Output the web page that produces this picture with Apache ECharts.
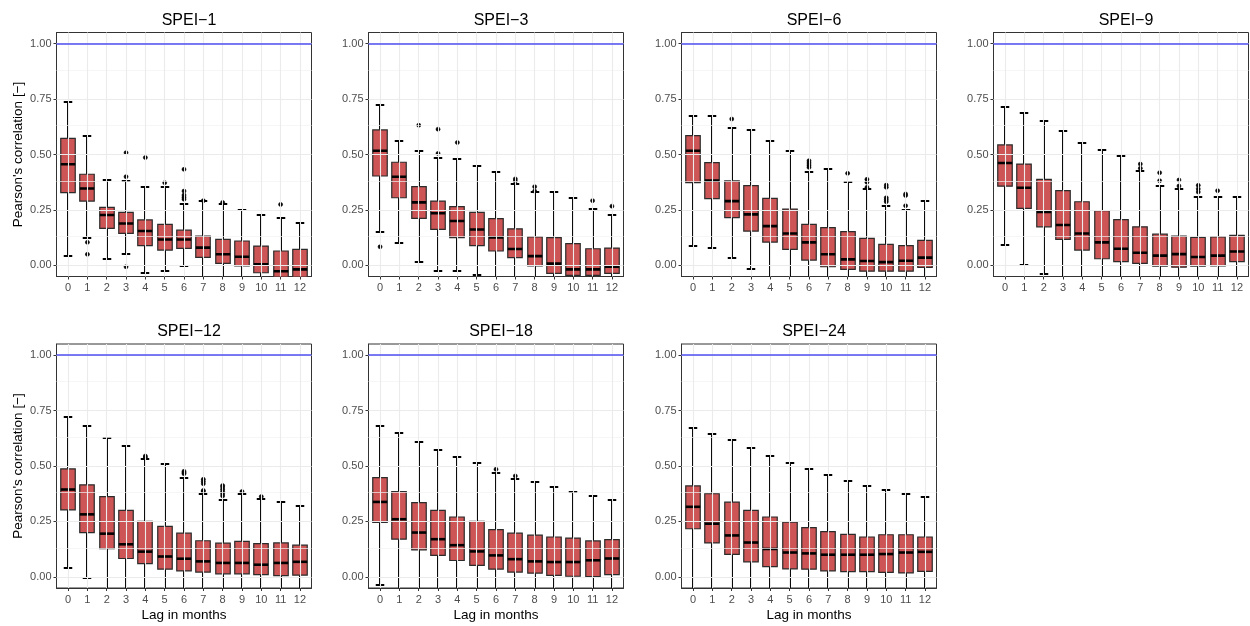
<!DOCTYPE html>
<html>
<head>
<meta charset="utf-8">
<script src="https://cdn.jsdelivr.net/npm/echarts@6/dist/echarts.min.js"></script>
<style>
html,body{margin:0;padding:0;background:#fff;}
#chart{width:1250px;height:626px;}
</style>
</head>
<body>
<div id="chart"></div>
<script>
// ---- DATA ----
const lags = [0,1,2,3,4,5,6,7,8,9,10,11,12];
const panelTitles = ['SPEI\u22121','SPEI\u22123','SPEI\u22126','SPEI\u22129','SPEI\u221212','SPEI\u221218','SPEI\u221224'];
const yTicks = [0, 0.25, 0.5, 0.75, 1];
const yMinor = [0.125, 0.375, 0.625, 0.875];
const refLine = 1;

// each row: [min, Q1, median, Q3, max] per lag
const spei1Box = [
  [0.042,0.328,0.456,0.573,0.738],[0.125,0.290,0.347,0.411,0.583],[0.027,0.167,0.227,0.262,0.385],
  [0.051,0.144,0.189,0.239,0.380],[-0.036,0.089,0.155,0.205,0.353],[-0.024,0.069,0.117,0.185,0.352],
  [-0.003,0.077,0.117,0.159,0.277],[-0.10,0.036,0.080,0.132,0.290],[-0.11,0.009,0.050,0.117,0.277],
  [-0.12,-0.002,0.039,0.110,0.250],[-0.14,-0.033,0.005,0.087,0.227],[-0.16,-0.058,-0.026,0.065,0.215],
  [-0.16,-0.060,-0.018,0.072,0.193]];
const spei1Out = [[1,0.104],[1,0.050],[3,0.508],[3,0.400],[3,-0.006],[4,0.486],[5,0.373],
  [6,0.433],[6,0.335],[6,0.317],[6,0.307],[6,0.298],[7,0.292],[8,0.284],[11,0.275]];

const spei3Box = [
  [0.149,0.403,0.517,0.611,0.724],[0.101,0.305,0.400,0.465,0.563],[0.015,0.212,0.284,0.355,0.516],
  [-0.024,0.162,0.235,0.290,0.486],[-0.024,0.125,0.200,0.265,0.478],[-0.044,0.089,0.162,0.239,0.448],
  [-0.10,0.065,0.126,0.211,0.421],[-0.12,0.035,0.074,0.165,0.367],[-0.13,-0.002,0.042,0.129,0.329],
  [-0.15,-0.036,0.008,0.125,0.329],[-0.16,-0.045,-0.018,0.098,0.304],[-0.16,-0.045,-0.018,0.075,0.254],
  [-0.14,-0.036,-0.006,0.078,0.227]];
const spei3Out = [[0,0.084],[2,0.632],[3,0.614],[3,0.505],[4,0.554],[7,0.390],[7,0.380],
  [8,0.355],[8,0.335],[11,0.292],[12,0.267]];

const spei6Box = [
  [0.089,0.373,0.517,0.585,0.672],[0.077,0.301,0.382,0.463,0.672],[0.032,0.215,0.290,0.381,0.621],
  [-0.018,0.155,0.230,0.360,0.611],[-0.10,0.105,0.177,0.302,0.560],[-0.12,0.072,0.144,0.254,0.517],
  [-0.13,0.024,0.104,0.185,0.420],[-0.15,-0.006,0.050,0.170,0.433],[-0.16,-0.018,0.027,0.152,0.378],
  [-0.17,-0.026,0.020,0.122,0.343],[-0.17,-0.026,0.015,0.095,0.269],[-0.16,-0.026,0.021,0.089,0.252],
  [-0.13,-0.009,0.035,0.113,0.289]];
const spei6Out = [[2,0.660],[6,0.472],[6,0.462],[6,0.452],[6,0.442],[8,0.415],[9,0.388],[9,0.375],[9,0.352],
  [10,0.362],[10,0.352],[10,0.305],[10,0.296],[10,0.287],[11,0.322],[11,0.315],[11,0.269]];

const spei9Box = [
  [0.092,0.357,0.462,0.543,0.714],[0.000,0.257,0.350,0.457,0.686],[-0.039,0.174,0.241,0.388,0.651],
  [-0.12,0.117,0.182,0.337,0.605],[-0.13,0.069,0.144,0.287,0.554],[-0.14,0.030,0.104,0.247,0.520],
  [-0.15,0.017,0.075,0.206,0.492],[-0.15,0.009,0.057,0.174,0.426],[-0.15,-0.003,0.044,0.141,0.358],
  [-0.15,-0.008,0.051,0.132,0.343],[-0.14,-0.003,0.038,0.126,0.307],[-0.13,-0.002,0.044,0.129,0.310],
  [-0.11,0.017,0.063,0.135,0.308]];
const spei9Out = [[7,0.457],[7,0.438],[8,0.418],[8,0.382],[9,0.385],[9,0.358],[10,0.361],[10,0.345],[10,0.331],[11,0.337]];

const spei12Box = [
  [0.041,0.302,0.394,0.487,0.720],[-0.007,0.200,0.282,0.415,0.680],[-0.10,0.127,0.195,0.362,0.627],
  [-0.12,0.083,0.147,0.300,0.590],[-0.13,0.060,0.114,0.250,0.532],[-0.14,0.035,0.092,0.228,0.510],
  [-0.15,0.027,0.082,0.197,0.445],[-0.15,0.022,0.070,0.163,0.375],[-0.15,0.014,0.063,0.152,0.348],
  [-0.15,0.014,0.063,0.160,0.375],[-0.15,0.010,0.055,0.150,0.352],[-0.15,0.006,0.063,0.153,0.337],
  [-0.14,0.008,0.068,0.143,0.320]];
const spei12Out = [[4,0.545],[4,0.540],[6,0.465],[6,0.470],[6,0.476],[7,0.385],[7,0.390],[7,0.420],[7,0.430],[7,0.440],
  [8,0.365],[8,0.375],[8,0.385],[8,0.395],[8,0.405],[8,0.412],[9,0.385],[10,0.362]];

const spei18Box = [
  [-0.035,0.246,0.338,0.448,0.680],[-0.10,0.170,0.260,0.385,0.648],[-0.12,0.122,0.200,0.335,0.610],
  [-0.13,0.097,0.170,0.300,0.572],[-0.14,0.074,0.143,0.270,0.540],[-0.15,0.052,0.115,0.250,0.513],
  [-0.15,0.035,0.097,0.213,0.470],[-0.15,0.022,0.080,0.197,0.440],[-0.15,0.017,0.070,0.188,0.430],
  [-0.15,0.007,0.067,0.180,0.405],[-0.15,0.003,0.067,0.175,0.382],[-0.15,0.001,0.075,0.162,0.363],
  [-0.14,0.010,0.083,0.168,0.348]];
const spei18Out = [[6,0.485],[7,0.455]];

const spei24Box = [
  [-0.10,0.217,0.316,0.410,0.670],[-0.12,0.153,0.240,0.375,0.645],[-0.13,0.102,0.187,0.337,0.617],
  [-0.14,0.068,0.155,0.300,0.580],[-0.14,0.046,0.126,0.270,0.545],[-0.15,0.036,0.110,0.247,0.515],
  [-0.15,0.035,0.106,0.222,0.487],[-0.15,0.027,0.100,0.204,0.458],[-0.15,0.024,0.100,0.192,0.432],
  [-0.15,0.024,0.100,0.180,0.410],[-0.15,0.020,0.103,0.190,0.390],[-0.15,0.018,0.110,0.190,0.375],
  [-0.15,0.025,0.113,0.180,0.362]];
const spei24Out = [];

const allBoxes = [spei1Box, spei3Box, spei6Box, spei9Box, spei12Box, spei18Box, spei24Box];
const allOutliers = [spei1Out, spei3Out, spei6Out, spei9Out, spei12Out, spei18Out, spei24Out];

// ---- LAYOUT ----
const colLeft = [56.5, 368.5, 681.5, 993.5];
const rowTop = [32.5, 344];
const plotW = 255, plotH = 244;
const FONT = 'Liberation Sans, Arial, Helvetica, sans-serif';

const grids = [], xAxes = [], yAxes = [], titles = [], series = [];

function renderBox(params, api) {
  const x = api.value(0);
  const vMin = api.value(1), q1 = api.value(2), med = api.value(3), q3 = api.value(4), vMax = api.value(5);
  const pMin = api.coord([x, vMin]);
  const pMax = api.coord([x, vMax]);
  const pQ1 = api.coord([x, q1]);
  const pQ3 = api.coord([x, q3]);
  const pMed = api.coord([x, med]);
  const unit = api.size([1, 0])[0];
  const bw = unit * 0.75;
  const cw = unit * 0.44;
  const cx = Math.round(pMed[0]);
  const yMin = Math.round(pMin[1]), yMax = Math.round(pMax[1]);
  const black = '#000000';
  return {
    type: 'group',
    children: [
      {type:'line', shape:{x1:cx, y1:yMin, x2:cx, y2:yMax}, style:{stroke:black, lineWidth:2}},
      {type:'line', shape:{x1:cx-cw/2, y1:yMin, x2:cx+cw/2, y2:yMin}, style:{stroke:black, lineWidth:2}},
      {type:'line', shape:{x1:cx-cw/2, y1:yMax, x2:cx+cw/2, y2:yMax}, style:{stroke:black, lineWidth:2}},
      {type:'rect', shape:{x:cx-bw/2, y:pQ3[1], width:bw, height:pQ1[1]-pQ3[1]}, style:{fill:'#CD5555', stroke:'#2b2b2b', lineWidth:1.2}},
      {type:'line', shape:{x1:cx-bw/2, y1:pMed[1], x2:cx+bw/2, y2:pMed[1]}, style:{stroke:black, lineWidth:2.6}}
    ]
  };
}

for (let i = 0; i < 7; i++) {
  const row = i < 4 ? 0 : 1;
  const col = i < 4 ? i : i - 4;
  const left = colLeft[col], top = rowTop[row];
  grids.push({left: left, top: top, width: plotW, height: plotH, show: true,
    borderColor: '#333333', borderWidth: 1, backgroundColor: '#fff', containLabel: false});
  titles.push({text: panelTitles[i], left: left + plotW / 2, top: top - 25, textAlign: 'center',
    textStyle: {fontFamily: FONT, fontSize: 16, fontWeight: 'normal', color: '#000'}});
  xAxes.push({
    gridIndex: i, type: 'value', min: -0.6, max: 12.6,
    name: row === 1 ? 'Lag in months' : '', nameLocation: 'middle', nameGap: 20,
    nameTextStyle: {fontFamily: FONT, fontSize: 13.5, color: '#000'},
    axisLine: {show: true, onZero: false, lineStyle: {color: '#333333', width: 1}},
    axisTick: {show: true, length: 3, customValues: lags, lineStyle: {color: '#333333', width: 1}},
    axisLabel: {customValues: lags, margin: 6, fontFamily: FONT, fontSize: 11, color: '#4d4d4d',
      formatter: v => String(Math.round(v))},
    splitLine: {show: false}
  });
  yAxes.push({
    gridIndex: i, type: 'value', min: -0.05, max: 1.05,
    name: col === 0 ? "Pearson's correlation [\u2212]" : '', nameLocation: 'middle', nameGap: 31,
    nameTextStyle: {fontFamily: FONT, fontSize: 13.5, color: '#000'},
    axisLine: {show: true, onZero: false, lineStyle: {color: '#333333', width: 1}},
    axisTick: {show: true, length: 3, customValues: yTicks, lineStyle: {color: '#333333', width: 1}},
    axisLabel: {customValues: yTicks, margin: 5, fontFamily: FONT, fontSize: 11, color: '#4d4d4d',
      formatter: v => v.toFixed(2)},
    splitLine: {show: false}
  });
  // grid lines (minor)
  series.push({
    type: 'line', xAxisIndex: i, yAxisIndex: i, data: [], silent: true, z: 1,
    markLine: {symbol: 'none', silent: true, animation: false, label: {show: false},
      lineStyle: {color: '#f2f2f2', width: 0.7, type: 'solid'},
      emphasis: {disabled: true},
      data: yMinor.map(v => ({yAxis: v}))}
  });
  // grid lines (major)
  series.push({
    type: 'line', xAxisIndex: i, yAxisIndex: i, data: [], silent: true, z: 1,
    markLine: {symbol: 'none', silent: true, animation: false, label: {show: false},
      lineStyle: {color: '#ebebeb', width: 1.1, type: 'solid'},
      emphasis: {disabled: true},
      data: yTicks.map(v => ({yAxis: v})).concat(lags.map(v => ({xAxis: v})))}
  });
  // reference line
  series.push({
    type: 'line', xAxisIndex: i, yAxisIndex: i, data: [], silent: true, z: 2,
    color: '#4f4ff2',
    markLine: {symbol: 'none', silent: true, animation: false, label: {show: false},
      lineStyle: {color: '#4f4ff2', width: 1.5, type: 'solid', opacity: 1},
      emphasis: {disabled: true},
      data: [{yAxis: refLine}]}
  });
  // boxes
  series.push({
    type: 'custom', xAxisIndex: i, yAxisIndex: i, z: 3, clip: true, animation: false,
    renderItem: renderBox,
    encode: {x: 0, y: [1, 2, 3, 4, 5]},
    data: allBoxes[i].map((r, k) => [lags[k]].concat(r))
  });
  // outliers
  series.push({
    type: 'scatter', xAxisIndex: i, yAxisIndex: i, z: 4, clip: true, animation: false,
    symbol: 'circle', symbolSize: 4, itemStyle: {color: '#000', borderColor: '#000', borderWidth: 0.6, opacity: 1},
    emphasis: {disabled: true},
    data: allOutliers[i]
  });
}

const chart = echarts.init(document.getElementById('chart'), null, {renderer: 'canvas'});
chart.setOption({
  animation: false,
  backgroundColor: '#fff',
  title: titles,
  grid: grids,
  xAxis: xAxes,
  yAxis: yAxes,
  series: series
});
</script>
</body>
</html>
